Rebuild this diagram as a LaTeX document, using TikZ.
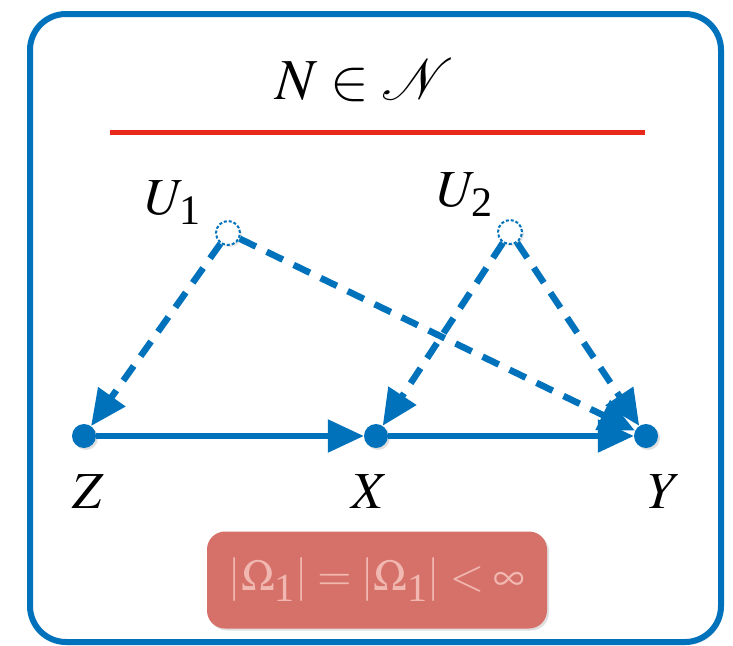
\documentclass[tikz,border=0pt]{standalone}
\usepackage{mathptmx}
\usepackage{fontspec}
\setmainfont{Liberation Serif}
\usetikzlibrary{arrows.meta,shadows}
\definecolor{cblue}{RGB}{0,114,188}
\definecolor{cred}{RGB}{232,40,27}
\definecolor{cpink}{RGB}{214,113,106}
\definecolor{ctext}{RGB}{240,184,176}
\newcommand{\bigsub}[2]{\hbox{\fontsize{#2}{#2}\selectfont #1}}
\tikzset{
  dot/.style={circle,fill=cblue,minimum size=24pt,inner sep=0pt,drop shadow={opacity=0.25,shadow xshift=2pt,shadow yshift=-2pt}},
  latent/.style={circle,draw=cblue,fill=white,dashed,dash pattern=on 3pt off 2pt,line width=2pt,minimum size=24pt,inner sep=0pt,drop shadow={opacity=0.2,shadow xshift=2pt,shadow yshift=-2pt}},
  edge/.style={line width=5.5pt,cblue,-{Triangle[length=36pt,width=32pt]}},
  dedge/.style={edge,line width=6.5pt,dash pattern=on 18pt off 12pt},
  lab/.style={font=\fontsize{52}{60}\selectfont,inner sep=0pt}
}
\begin{document}
\begin{tikzpicture}[x=1pt,y=-1pt]
\useasboundingbox (0,0) rectangle (733,645);
\draw[cblue,line width=6pt,rounded corners=36pt,drop shadow={opacity=0.25,shadow xshift=2pt,shadow yshift=-3pt},fill=white] (30,14) rectangle (721,642);
\node[inner sep=0pt,font=\fontsize{58}{68}\selectfont] (title) at (365,80) {$N\in\mathcal{N}$};
\draw[cred,line width=5pt] (110,132) -- (645,132);
\node[latent] (u1) at (228,233) {};
\node[latent] (u2) at (510,232) {};
\node[lab] (lu1) at (173,203) {$U_{\bigsub{1}{42}}$};
\node[lab] (lu2) at (465,195) {$U_{\bigsub{2}{42}}$};
\node[dot] (z) at (84,436) {};
\node[dot] (x) at (376,436) {};
\node[dot] (y) at (646,436) {};
\node[lab] (lz) at (88,492) {$Z$};
\node[lab] (lx) at (370,492) {$X$};
\node[lab] (ly) at (665,492) {$Y$};
\draw[edge] (z) -- (x);
\draw[edge] (x) -- (y);
\draw[dedge] (u1) -- (z);
\draw[dedge] (u1) -- (y);
\draw[dedge] (u2) -- (x);
\draw[dedge] (u2) -- (y);
\node[fill=cpink,rounded corners=18pt,minimum width=340pt,minimum height=97pt,inner sep=0pt,text=ctext,font=\fontsize{44}{52}\selectfont,drop shadow={opacity=0.25,shadow xshift=2pt,shadow yshift=-2pt}] (omega) at (377,580) {$|\Omega_{\bigsub{1}{40}}| = |\Omega_{\bigsub{1}{40}}| < \infty$};
\end{tikzpicture}
\end{document}
